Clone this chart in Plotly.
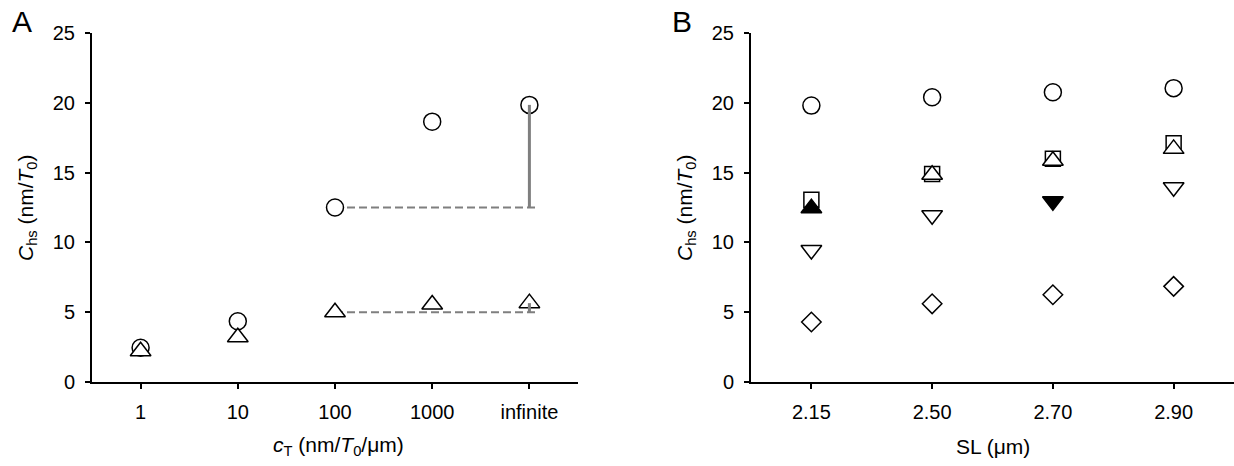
import plotly.graph_objects as go

# ---------------- data ----------------
# Panel A
a_categories = ["1", "10", "100", "1000", "infinite"]
a_circles = [2.45, 4.35, 12.5, 18.65, 19.85]
a_triangles = [2.2, 3.2, 5.0, 5.55, 5.65]

# Panel B
b_categories = ["2.15", "2.50", "2.70", "2.90"]
b_circles = [19.8, 20.4, 20.75, 21.05]
b_squares = [13.05, 14.9, 16.0, 17.1]
b_tri_up_open = [None, 14.85, 15.85, 16.7]
b_tri_up_filled = [12.45, None, None, None]
b_tri_down_open = [9.45, 11.95, None, 13.95]
b_tri_down_filled = [None, None, 12.95, None]
b_diamonds = [4.3, 5.6, 6.25, 6.85]

y_ticks = [0, 5, 10, 15, 20, 25]

# ---------------- style ----------------
FONT = "Arial, 'Liberation Sans', sans-serif"
W, H = 1234, 466
GRAY = "#7f7f7f"
line_overhang = 0.08
TICK_FS = 20
TITLE_FS = 21

def px_x(p):
    return p / W

def px_y(p):
    return (H - p) / H

fig = go.Figure()

ax = list(range(len(a_categories)))
bx = list(range(len(b_categories)))

# Panel A reference lines (drawn from data: level at "100" to "infinite")
i0 = a_categories.index("100")
i1 = a_categories.index("infinite")
for level in (a_circles[i0], a_triangles[i0]):
    fig.add_trace(go.Scatter(
        x=[ax[i0], ax[i1] + line_overhang], y=[level, level], mode="lines",
        line=dict(color=GRAY, width=2, dash="8px,4px"),
        xaxis="x", yaxis="y", showlegend=False, hoverinfo="skip"))

def add_markers(x, y, symbol, size, filled, xa, ya):
    fig.add_trace(go.Scatter(
        x=x, y=y, mode="markers",
        marker=dict(symbol=symbol, size=size,
                    color="black" if filled else "white",
                    line=dict(color="black", width=1.5)),
        xaxis=xa, yaxis=ya, showlegend=False))

add_markers(ax, a_circles, "circle", 17, False, "x", "y")
add_markers(ax, a_triangles, "triangle-up", 18, False, "x", "y")

# vertical gray lines at "infinite", from the reference level to the value
for base, top in ((a_circles[i0], a_circles[i1]), (a_triangles[i0], a_triangles[i1])):
    fig.add_trace(go.Scatter(
        x=[ax[i1], ax[i1]], y=[base, top], mode="lines",
        line=dict(color=GRAY, width=3),
        xaxis="x", yaxis="y", showlegend=False, hoverinfo="skip"))

# Panel B
add_markers(bx, b_circles, "circle", 17, False, "x2", "y2")
add_markers(bx, b_squares, "square", 15, False, "x2", "y2")
add_markers(bx, b_tri_up_open, "triangle-up", 18, False, "x2", "y2")
add_markers(bx, b_tri_up_filled, "triangle-up", 18, True, "x2", "y2")
add_markers(bx, b_tri_down_open, "triangle-down", 18, False, "x2", "y2")
add_markers(bx, b_tri_down_filled, "triangle-down", 18, True, "x2", "y2")
add_markers(bx, b_diamonds, "diamond", 15, False, "x2", "y2")

axis_common = dict(
    showline=True, linecolor="black", linewidth=2,
    ticks="outside", ticklen=5, tickwidth=2, tickcolor="black",
    showgrid=False, zeroline=False, automargin=False,
    tickfont=dict(family=FONT, size=TICK_FS, color="black"),
    ticklabelstandoff=6,
)

dom_a = [px_x(92), px_x(578)]
dom_b = [px_x(751), 1.0]
dom_y = [px_y(382), px_y(33)]

fig.update_layout(
    template="none",
    width=W, height=H,
    margin=dict(l=0, r=0, t=0, b=0, autoexpand=False),
    paper_bgcolor="white", plot_bgcolor="white",
    font=dict(family=FONT, size=TICK_FS, color="black"),
    hovermode=False,
    xaxis=dict(axis_common, domain=dom_a, range=[-0.5, len(a_categories) - 0.5],
               tickvals=ax, ticktext=a_categories, anchor="y"),
    yaxis=dict(axis_common, domain=dom_y, range=[0, 25], tickvals=y_ticks, anchor="x"),
    xaxis2=dict(axis_common, domain=dom_b, range=[-0.5, len(b_categories) - 0.5],
                tickvals=bx, ticktext=b_categories, anchor="y2"),
    yaxis2=dict(axis_common, domain=dom_y, range=[0, 25], tickvals=y_ticks, anchor="x2"),
)

ytitle = "<i>C</i><sub>hs</sub> (nm/<i>T</i><sub>0</sub>)"
ann = [
    dict(text="A", x=px_x(22), y=px_y(22), font=dict(size=30)),
    dict(text="B", x=px_x(682), y=px_y(22), font=dict(size=30)),
    dict(text=ytitle, x=px_x(27), y=px_y(208), textangle=-90),
    dict(text=ytitle, x=px_x(686), y=px_y(208), textangle=-90),
    dict(text="<i>c</i><sub>T</sub> (nm/<i>T</i><sub>0</sub>/μm)", x=px_x(338), y=px_y(446)),
    dict(text="SL (μm)", x=px_x(993), y=px_y(446)),
]
for a in ann:
    a.update(xref="paper", yref="paper", showarrow=False,
             xanchor="center", yanchor="middle")
    a.setdefault("font", dict(size=TITLE_FS))
    a["font"] = dict(family=FONT, color="black", **a["font"])
fig.update_layout(annotations=ann)

fig.write_html(
    "out.html",
    config={"displayModeBar": False, "staticPlot": True},
    post_script="document.body.style.margin='0';document.body.style.overflow='hidden';",
)
